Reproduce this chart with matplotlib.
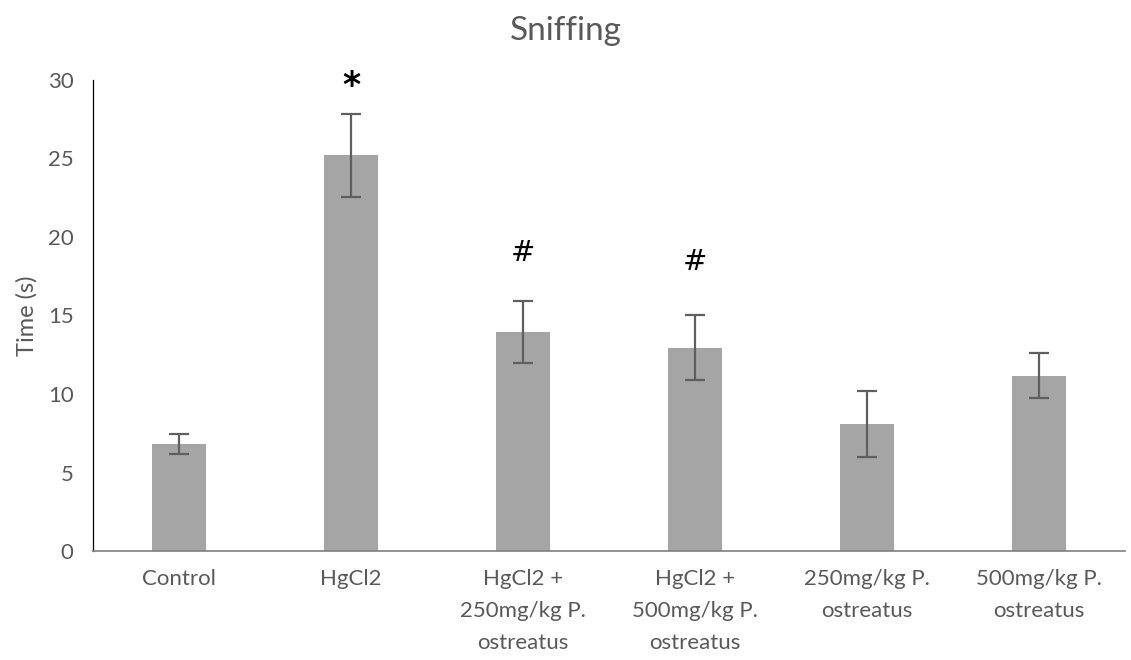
import matplotlib.pyplot as plt
import numpy as np

plt.rcParams["font.family"] = ["Lato", "DejaVu Sans"]

groups = [
    "Control",
    "HgCl2",
    "HgCl2 +\n250mg/kg P.\nostreatus",
    "HgCl2 +\n500mg/kg P.\nostreatus",
    "250mg/kg P.\nostreatus",
    "500mg/kg P.\nostreatus",
]
sniff_time = [6.8, 25.2, 13.95, 12.96, 8.08, 11.17]
sniff_err = [0.63, 2.63, 1.95, 2.06, 2.1, 1.44]
marks = ["", "*", "#", "#", "", ""]
mark_y = [None, 29.6, 19.0, 18.4, None, None]

text_col = "#595959"

fig = plt.figure(figsize=(11.31, 6.6), dpi=100)
ax = fig.add_axes([0.0822, 0.165, 0.9125, 0.714])

x = np.arange(len(groups))
ax.bar(x, sniff_time, width=0.31, color="#a5a5a5", zorder=2)
ax.errorbar(x, sniff_time, yerr=sniff_err, fmt="none", ecolor="#5f5f5f",
            elinewidth=1.6, capsize=7, capthick=1.6, zorder=3)

for xi, m, my in zip(x, marks, mark_y):
    if m == "*":
        ax.text(xi, my, m, ha="center", va="center", fontsize=25,
                fontweight="bold", color="black", family=["DejaVu Sans"])
    elif m:
        ax.text(xi, my, m, ha="center", va="center", fontsize=21,
                color="black", family=["DejaVu Sans"])

ax.set_xlim(-0.5, len(groups) - 0.5)
ax.set_ylim(0, 30)
ax.set_yticks(range(0, 31, 5))
ax.set_xticks(x)
ax.set_xticklabels(groups, linespacing=1.75)
ax.tick_params(axis="both", length=0, labelsize=16, colors=text_col)
ax.tick_params(axis="y", pad=14)
ax.tick_params(axis="x", pad=13)

for side in ["top", "right"]:
    ax.spines[side].set_visible(False)
ax.spines["left"].set_color("#000000")
ax.spines["left"].set_linewidth(0.9)
ax.spines["bottom"].set_color("#7f7f7f")
ax.spines["bottom"].set_linewidth(1.2)

ax.set_ylabel("Time (s)", fontsize=17, color=text_col, labelpad=7)
fig.text(0.5, 0.953, "Sniffing", ha="center", va="center",
         fontsize=24, color=text_col)

fig.savefig("out.png", dpi=100)
